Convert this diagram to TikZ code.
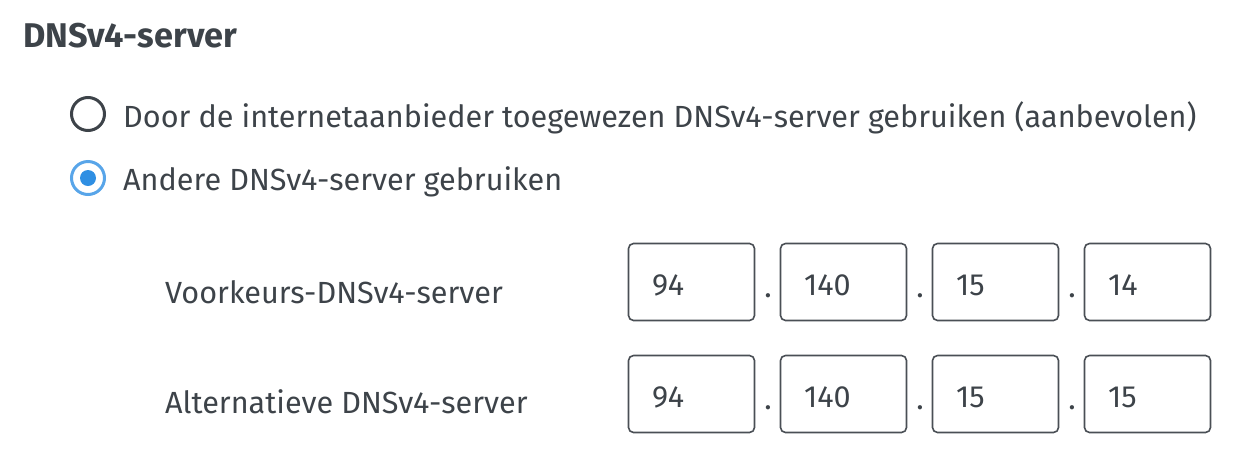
\documentclass[tikz,border=0pt]{standalone}
\usepackage{fontspec}
\setmainfont{Fira Sans}
\usepackage{xcolor}
\definecolor{inktext}{HTML}{3D4349}
\definecolor{boxline}{HTML}{4A4F55}
\definecolor{radioblue}{HTML}{2F8FE3}
\tikzset{
    label-text/.style = {anchor=base west, inner sep=0pt, text=inktext, font=\fontsize{30.6}{36}\selectfont},
    title-text/.style = {anchor=base west, inner sep=0pt, text=inktext, font=\fontsize{34.3}{38}\selectfont\bfseries},
    ip-box/.style = {draw=boxline, line width=1.6pt, rounded corners=5pt, minimum width=126pt, minimum height=77pt, text width=79pt, text height=26pt, text depth=0pt, inner xsep=23pt, align=left, text=inktext, font=\fontsize{30.6}{36}\selectfont},
    ip-dot/.style = {anchor=base, inner sep=0pt, text=inktext, font=\fontsize{30.6}{36}\selectfont},
}

\begin{document}
\begin{tikzpicture}[x=1pt,y=-1pt]
\useasboundingbox (0,0) rectangle (1244,456);

\node[title-text] (title) at (23,47) {DNSv4-server};

% radio buttons
\draw[inktext, line width=3pt] (88,114) circle (16.5pt);
\node[label-text] (isp) at (123,127) {Door de internetaanbieder toegewezen DNSv4-server gebruiken (aanbevolen)};
\draw[radioblue!80, line width=3pt] (88,178) circle (16.5pt);
\fill[radioblue] (88,178) circle (8pt);
\node[label-text] (other) at (123,190) {Andere DNSv4-server gebruiken};

% address rows
\node[label-text] (pref) at (165,303) {Voorkeurs-DNSv4-server};
\node[label-text] (alt) at (165,413) {Alternatieve DNSv4-server};

\foreach \v [count=\i] in {94,140,15,14} {
    \node[ip-box] (pref-\i) at (691.5+\i*152-152,282) {\v};
}
\foreach \v [count=\i] in {94,140,15,15} {
    \node[ip-box] (alt-\i) at (691.5+\i*152-152,394) {\v};
}
\foreach \i in {1,2,3} {
    \node[ip-dot] at (768+\i*152-152,297) {.};
    \node[ip-dot] at (768+\i*152-152,409) {.};
}
\end{tikzpicture}
\end{document}
